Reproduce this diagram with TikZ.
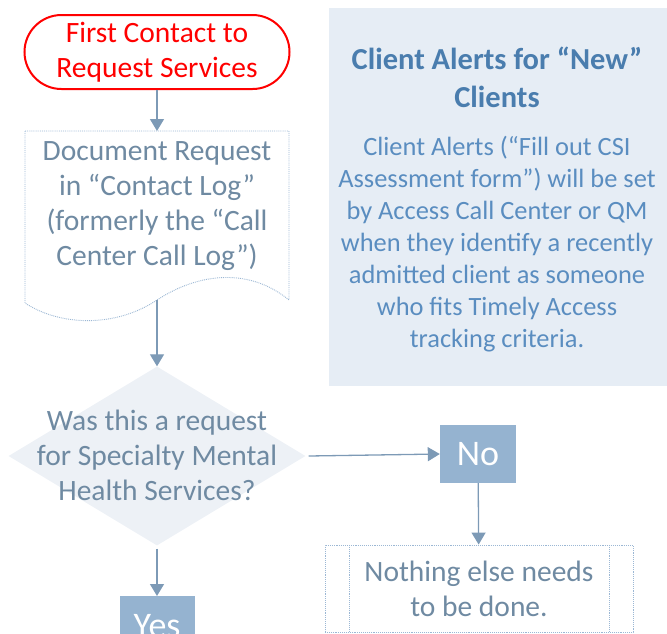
\documentclass[tikz,border=0pt]{standalone}
\usepackage{fontspec}
\setmainfont{Carlito}
\usetikzlibrary{shapes.geometric,arrows.meta}
\definecolor{startred}{HTML}{FF0000}
\definecolor{flowline}{HTML}{7D9AB6}
\definecolor{dotline}{HTML}{9BB7D4}
\definecolor{flowtext}{HTML}{6F8AA2}
\definecolor{askfill}{HTML}{EDF1F6}
\definecolor{answerfill}{HTML}{95B3D0}
\definecolor{notefill}{HTML}{E6EDF5}
\definecolor{notehead}{HTML}{4A7DAE}
\definecolor{notetext}{HTML}{5A8DC0}

\begin{document}
\begin{tikzpicture}[x=1pt, y=-1pt,
    flow/.style={draw=flowline, line width=1.3pt, -{Triangle[length=12pt, width=14pt]}},
    step text/.style={text=flowtext, align=center, font=\fontsize{29.5}{35}\selectfont},
    answer/.style={fill=answerfill, text=white, inner sep=0pt, font=\fontsize{36}{40}\selectfont}]

    \useasboundingbox (0,0) rectangle (667,633);
    \clip (0,0) rectangle (667,633);

    % note panel
    \node[fill=notefill, minimum width=338pt, minimum height=378pt, inner sep=0pt] (note) at (498,197) {};
    \node[text=notehead, align=center, font=\bfseries\fontsize{30.5}{38}\selectfont] (notetitle) at (497,77) {Client Alerts for “New”\\Clients};
    \node[text=notetext, align=center, font=\fontsize{26.4}{32}\selectfont] (notebody) at (497,244) {Client Alerts (“Fill out CSI\\Assessment form”) will be set\\by Access Call Center or QM\\when they identify a recently\\admitted client as someone\\who fits Timely Access\\tracking criteria.};

    % start
    \node[draw=startred, line width=2pt, rounded corners=37pt, minimum width=265pt, minimum height=74pt, text=startred, align=center, font=\fontsize{29.5}{35}\selectfont] (start) at (157,52) {First Contact to\\Request Services};

    % document
    \draw[dotline, densely dotted, line width=0.9pt, fill=white] (25,131) -- (289,131) -- (289,300) .. controls (250,268) and (200,272) .. (157,300) .. controls (115,328) and (60,326) .. (25,303) -- cycle;
    \node[step text] (doc) at (157,206) {Document Request\\in “Contact Log”\\(formerly the “Call\\Center Call Log”)};
    \coordinate (docend) at (157,300);

    % decision
    \node[diamond, fill=askfill, minimum width=297pt, minimum height=179pt, inner sep=0pt] (ask) at (157,456) {};
    \node[step text] (asktext) at (157,455) {Was this a request\\for Specialty Mental\\Health Services?};

    % answers
    \node[answer, minimum width=76pt, minimum height=58pt] (no) at (478,454) {No};
    \node[answer, minimum width=75pt, minimum height=60pt, anchor=north] (yes) at (157,596) {Yes};

    \node[draw=dotline, densely dotted, line width=0.9pt, minimum width=308pt, minimum height=87pt, step text] (done) at (479,588.5) {Nothing else needs\\to be done.};
    \draw[dotline, densely dotted, line width=0.9pt] (349,545) -- (349,632);
    \draw[dotline, densely dotted, line width=0.9pt] (609,545) -- (609,632);

    \draw[flow] (start) -- (157,131);
    \draw[flow] (docend) -- (ask.north);
    \draw[flow] (ask.east) ++(3,0) -- (no.west);
    \draw[flow] (no) -- (done);
    \draw[flow] (ask.south) ++(0,3) -- (yes);

\end{tikzpicture}
\end{document}
